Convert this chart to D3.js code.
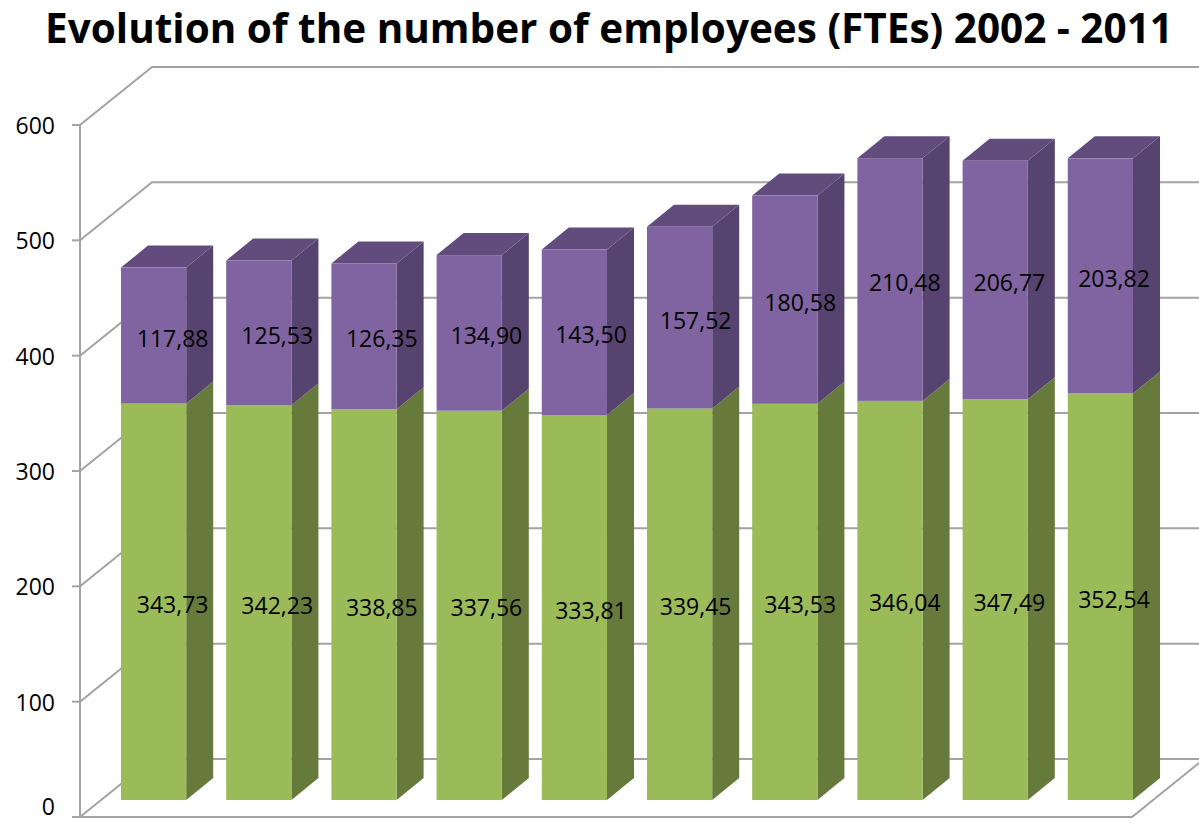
<!DOCTYPE html>
<html>
<head>
<meta charset="utf-8">
<script src="https://cdn.jsdelivr.net/npm/d3@7"></script>
<style>
  body { margin: 0; background: #fff; }
  svg { display: block; font-family: "Open Sans", sans-serif; }
</style>
</head>
<body>
<div id="chart"></div>
<script>
const years = ['2002', '2003', '2004', '2005', '2006', '2007', '2008', '2009', '2010', '2011'];
const lower = [343.73, 342.23, 338.85, 337.56, 333.81, 339.45, 343.53, 346.04, 347.49, 352.54];
const upper = [117.88, 125.53, 126.35, 134.90, 143.50, 157.52, 180.58, 210.48, 206.77, 203.82];
const ticks = [0, 100, 200, 300, 400, 500, 600];

const width = 1199, height = 827;
const colors = {
  green: { front: '#9bbb59', side: '#667b3b', top: '#7e9a47' },
  purple: { front: '#8064a2', side: '#56436f', top: '#614c7d' }
};
const gridColor = '#a3a3a3';

// oblique 3d offsets: wall depth, bar recess from front, bar depth
const wall = { dx: 72, dy: -58 };
const recess = { dx: 21, dy: -17 };
const depth = { dx: 27, dy: -22 };

const svg = d3.select('#chart').append('svg').attr('width', width).attr('height', height);

const y = d3.scaleLinear().domain([0, 600]).range([817, 125]);
const x = d3.scaleBand().domain(years)
  .range([80 + recess.dx, 80 + recess.dx + 1052])
  .paddingInner(0.38).paddingOuter(0.19);

/* --- walls and gridlines */
const grid = svg.append('g').attr('fill', 'none').attr('stroke', gridColor).attr('stroke-width', 2);

ticks.forEach(t => {
  grid.append('polyline')
    .attr('points', [[80, y(t)], [80 + wall.dx, y(t) + wall.dy], [width + 10, y(t) + wall.dy]].join(' '));
  grid.append('line').attr('x1', 72).attr('x2', 80).attr('y1', y(t)).attr('y2', y(t));
});

// floor front and right edges
grid.append('polyline')
  .attr('points', [[80, y(0)], [80 + 1052, y(0)], [80 + 1052 + wall.dx, y(0) + wall.dy]].join(' '));

// value axis
grid.append('line').attr('x1', 80).attr('x2', 80).attr('y1', y(600)).attr('y2', y(0));

// the 0 label is nudged up a little so it stays inside the picture
svg.append('g').selectAll('text').data(ticks).enter().append('text')
  .attr('x', 55).attr('y', d => Math.min(y(d), 806))
  .attr('text-anchor', 'end').attr('dominant-baseline', 'central')
  .attr('font-size', 23).attr('fill', '#000')
  .text(d => d);

/* --- bars */
const segments = [];
years.forEach((yr, i) => {
  segments.push({ year: yr, v0: 0, v1: lower[i], value: lower[i], c: colors.green, top: false });
  segments.push({ year: yr, v0: lower[i], v1: lower[i] + upper[i], value: upper[i], c: colors.purple, top: true });
});

const bw = x.bandwidth();
const bars = svg.append('g');

segments.forEach(s => {
  const x0 = x(s.year), x1 = x0 + bw;
  const yTop = y(s.v1) + recess.dy, yBot = y(s.v0) + recess.dy;

  bars.append('polygon')
    .attr('points', [[x1, yTop], [x1 + depth.dx, yTop + depth.dy], [x1 + depth.dx, yBot + depth.dy], [x1, yBot]].join(' '))
    .attr('fill', s.c.side);

  if (s.top) {
    bars.append('polygon')
      .attr('points', [[x0, yTop], [x0 + depth.dx, yTop + depth.dy], [x1 + depth.dx, yTop + depth.dy], [x1, yTop]].join(' '))
      .attr('fill', s.c.top);
  }

  bars.append('rect')
    .attr('x', x0).attr('y', yTop).attr('width', bw).attr('height', yBot - yTop)
    .attr('fill', s.c.front);
});

/* --- data labels */
const fmt = v => v.toFixed(2).replace('.', ',');
svg.append('g').selectAll('text').data(segments).enter().append('text')
  .attr('x', d => x(d.year) + bw / 2 + 19 - years.indexOf(d.year) * 0.6)
  .attr('y', d => (y(d.v0) + y(d.v1)) / 2 + recess.dy + 2)
  .attr('text-anchor', 'middle').attr('dominant-baseline', 'central')
  .attr('font-size', 23).attr('fill', '#000')
  .text(d => fmt(d.value));

/* --- title, sized to span the same width as the reference */
const title = svg.append('text')
  .attr('x', 609).attr('y', 43)
  .attr('text-anchor', 'middle')
  .attr('font-weight', 'bold').attr('font-size', 40).attr('fill', '#000')
  .text('Evolution of the number of employees (FTEs) 2002 - 2011');
const tw = title.node().getComputedTextLength();
title.attr('font-size', 40 * 1128 / tw);
</script>
</body>
</html>
